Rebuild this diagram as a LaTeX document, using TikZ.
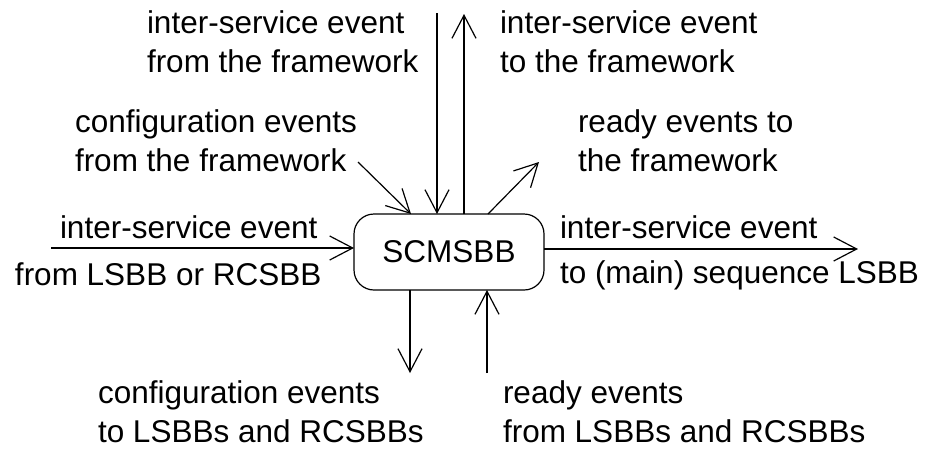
\documentclass[tikz,border=0pt]{standalone}
\usepackage{fontspec}
\setmainfont{Liberation Sans}
\usetikzlibrary{arrows.meta}
\begin{document}
\begin{tikzpicture}[x=1pt,y=-1pt,
  every node/.style={inner sep=0pt,outer sep=0pt},
  lbl/.style={anchor=base west,align=left,font=\fontsize{31.5}{39}\selectfont},
  blk/.style={draw,line width=1.2pt,rounded corners=20pt,minimum width=190pt,minimum height=76pt,font=\fontsize{31.5}{39}\selectfont},
  conn/.style={line width=1.2pt,-{Straight Barb[length=23pt,width=24pt,line width=1.2pt]}}]
\useasboundingbox (0,0) rectangle (927,448);
\node[blk] (box) at (449,252) {SCMSBB};
% free ends
\coordinate (tin) at (437,13);
\coordinate (tout) at (464,14);
\coordinate (din) at (358,162);
\coordinate (dinE) at (411,214);
\coordinate (doutS) at (488,214);
\coordinate (dout) at (539,162);
\coordinate (bout) at (410,373);
\coordinate (bin) at (487,373);
\coordinate (lin) at (51,248);
\coordinate (rout) at (858,249);
% connectors
\draw[conn] (tin) -- (tin |- box.north);
\draw[conn] (tout |- box.north) -- (tout);
\draw[conn] (din) -- (dinE);
\draw[conn] (doutS) -- (dout);
\draw[conn] (bout |- box.south) -- (bout);
\draw[conn] (bin) -- (bin |- box.south);
\draw[conn] (lin) -- (lin -| box.west);
\draw[conn] (rout -| box.east) -- (rout);
% labels (base = last line's baseline)
\node[lbl] (t1) at (147,72) {inter-service event\\from the framework};
\node[lbl] (t2) at (500,72) {inter-service event\\to the framework};
\node[lbl] (t3) at (75,171) {configuration events\\from the framework};
\node[lbl] (t4) at (578,171) {ready events to\\the framework};
\node[lbl] (l1) at (60,238) {inter-service event};
\node[lbl] (l2) at (15,285) {from LSBB or RCSBB};
\node[lbl] (r1) at (560,238) {inter-service event};
\node[lbl] (r2) at (560,283) {to (main) sequence LSBB};
\node[lbl] (b1) at (98,442) {configuration events\\to LSBBs and RCSBBs};
\node[lbl] (b2) at (503,442) {ready events\\from LSBBs and RCSBBs};
\end{tikzpicture}
\end{document}
